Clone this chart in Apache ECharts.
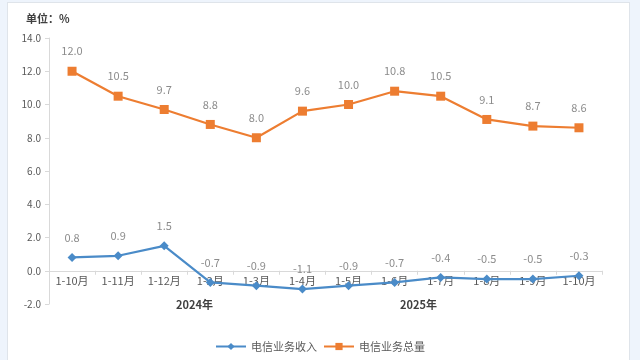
<!DOCTYPE html>
<html><head><meta charset="utf-8">
<script src="https://cdn.jsdelivr.net/npm/echarts@6/dist/echarts.min.js"></script>
<style>
html,body{margin:0;padding:0;width:640px;height:360px;background:#eef4fc;overflow:hidden;}
#card{position:absolute;left:7px;top:2px;width:623px;height:360px;background:#fff;border:1px solid #dfe4ea;box-sizing:border-box;}
#c{position:absolute;left:0;top:0;width:640px;height:360px;}
</style></head>
<body><div id="card"></div><div id="c"></div>
<script>
var categories = ['1-10月','1-11月','1-12月','1-2月','1-3月','1-4月','1-5月','1-6月','1-7月','1-8月','1-9月','1-10月'];
var revenue = [0.8, 0.9, 1.5, -0.7, -0.9, -1.1, -0.9, -0.7, -0.4, -0.5, -0.5, -0.3];
var volume = [12.0, 10.5, 9.7, 8.8, 8.0, 9.6, 10.0, 10.8, 10.5, 9.1, 8.7, 8.6];
var yTicks = [-2, 0, 2, 4, 6, 8, 10, 12, 14];
var years = ['2024年', '2025年'];

var gridTop = 38, gridBottom = 56, H = 360;
var yMin = yTicks[0], yMax = yTicks[yTicks.length-1];
var zeroOffset = -(H - gridTop - gridBottom) * (0 - yMin) / (yMax - yMin);

var chart = echarts.init(document.getElementById('c'), null, {renderer:'canvas'});
var font = 'Microsoft YaHei, "Noto Sans CJK SC", sans-serif';
chart.setOption({
  animation:false,
  textStyle:{fontFamily:font},
  title:{text:'单位：%', left:21, top:8, textStyle:{fontSize:11, fontWeight:'bold', color:'#404040', fontFamily:font}},
  grid:{left:49, right:38, top:gridTop, bottom:gridBottom},
  legend:{bottom:3, left:'center', itemWidth:30, itemHeight:9, itemGap:6,
    textStyle:{fontSize:11, color:'#595959'},
    data:['电信业务收入','电信业务总量']},
  xAxis:{type:'category', data:categories, boundaryGap:true, offset:zeroOffset,
    axisLine:{onZero:false, lineStyle:{color:'#d9d9d9', width:1}},
    axisTick:{show:true, interval:0, length:4, lineStyle:{color:'#d9d9d9'}},
    axisLabel:{interval:0, fontSize:11, color:'#595959', margin:5}},
  yAxis:{type:'value', min:yMin, max:yMax, interval:2,
    splitLine:{show:false},
    axisLine:{show:true, lineStyle:{color:'#d9d9d9'}},
    axisTick:{show:true, length:4, lineStyle:{color:'#d9d9d9'}},
    axisLabel:{fontSize:10, color:'#595959', formatter:function(v){return v.toFixed(1);}}},
  series:[
    {name:'电信业务收入', type:'line', data:revenue, symbol:'diamond', symbolSize:9,
     itemStyle:{color:'#4a8bc8'}, lineStyle:{width:2.2, color:'#4a8bc8'},
     label:{show:true, position:'top', distance:10, fontSize:11, color:'#8c8c8c', formatter:function(p){return p.value.toFixed(1);}}},
    {name:'电信业务总量', type:'line', data:volume, symbol:'rect', symbolSize:9,
     itemStyle:{color:'#ed7d31'}, lineStyle:{width:2.2, color:'#ed7d31'},
     label:{show:true, position:'top', distance:10, fontSize:11, color:'#8c8c8c', formatter:function(p){return p.value.toFixed(1);}}}
  ],
  graphic:[
    {type:'text', left:176, top:299, style:{text:years[0], fill:'#404040', font:'bold 11px '+font}},
    {type:'text', left:400, top:299, style:{text:years[1], fill:'#404040', font:'bold 11px '+font}}
  ]
});
</script></body></html>
